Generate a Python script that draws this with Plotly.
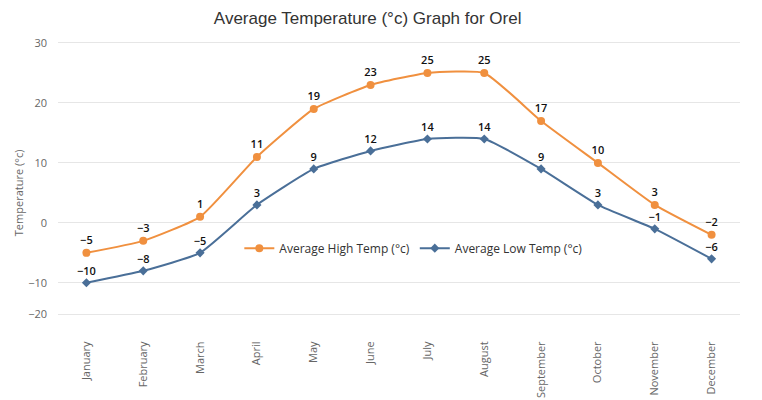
import plotly.graph_objects as go

months = ["January", "February", "March", "April", "May", "June", "July",
          "August", "September", "October", "November", "December"]
high = [-5, -3, 1, 11, 19, 23, 25, 25, 17, 10, 3, -2]
low = [-10, -8, -5, 3, 9, 12, 14, 14, 9, 3, -1, -6]
ytick_vals = [-15.2, -10, 0, 10, 20, 30]
ytick_text = ["−20", "−10", "0", "10", "20", "30"]


def fmt(v):
    return str(v).replace("-", "\u2212")


label_font = dict(size=11, color="#111", family="Open Sans", weight=600)

fig = go.Figure()
fig.add_trace(go.Scatter(
    x=months, y=high, name="Average High Temp (°c)",
    mode="lines+markers+text", text=[fmt(v) for v in high],
    textposition="top center", textfont=label_font,
    line=dict(color="#f0903f", width=2, shape="spline", smoothing=0.45),
    marker=dict(symbol="circle", size=8, color="#f0903f"),
))
fig.add_trace(go.Scatter(
    x=months, y=low, name="Average Low Temp (°c)",
    mode="lines+markers+text", text=[fmt(v) for v in low],
    textposition="top center", textfont=label_font,
    line=dict(color="#4a6f98", width=2, shape="spline", smoothing=0.45),
    marker=dict(symbol="diamond", size=7, color="#4a6f98"),
))

fig.update_layout(
    width=754, height=392,
    margin=dict(l=50, r=22, t=35, b=86, autoexpand=False),
    paper_bgcolor="white", plot_bgcolor="white",
    title=dict(text="Average Temperature (°c) Graph for Orel", x=0.477, xanchor="center",
               y=0.9745, yanchor="middle",
               font=dict(size=17, color="#333", family="Liberation Sans")),
    legend=dict(orientation="h", x=0.521, xanchor="center", y=0.243, yanchor="middle",
                font=dict(size=12, color="#333", family="Open Sans"),
                bgcolor="rgba(0,0,0,0)"),
    xaxis=dict(type="category", range=[-0.5, 11.5], tickangle=-90, automargin=False,
               tickfont=dict(size=11, color="#666", family="Open Sans"),
               ticklabelstandoff=22,
               showgrid=False, showline=True, mirror=True, linecolor="#e6e6e6",
               linewidth=1, ticks="", ticklen=0),
    yaxis=dict(range=[-15.2, 30], tickvals=ytick_vals, ticktext=ytick_text,
               automargin=False, ticklabelstandoff=10,
               tickfont=dict(size=11, color="#666", family="Open Sans"),
               gridcolor="#e6e6e6", zeroline=False, showline=False),
    annotations=[dict(text="Temperature (°c)", textangle=-90, showarrow=False,
                      xref="paper", yref="paper", x=-0.0725, y=0.446,
                      xanchor="left", yanchor="middle",
                      font=dict(size=11, color="#666", family="Open Sans"))],
    showlegend=True,
)
fig.write_html("out.html")
